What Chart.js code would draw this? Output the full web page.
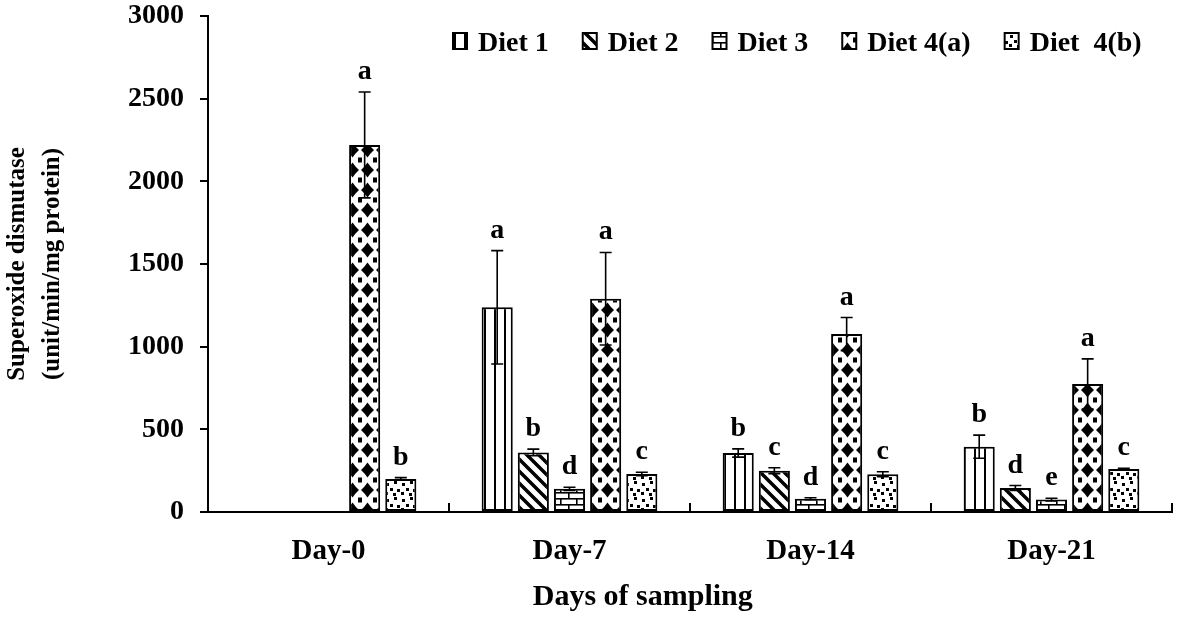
<!DOCTYPE html>
<html><head><meta charset="utf-8">
<script src="https://cdn.jsdelivr.net/npm/chart.js@4.4.1/dist/chart.umd.min.js"></script>
<style>html,body{margin:0;padding:0;background:#fff;overflow:hidden}#wrap{width:1181px;height:622px}</style>
</head><body><div id="wrap"><canvas id="c" width="1181" height="622"></canvas></div>
<script>
// ---------- data ----------
const categories = ['Day-0', 'Day-7', 'Day-14', 'Day-21'];
const seriesNames = ['Diet 1', 'Diet 2', 'Diet 3', 'Diet 4(a)', 'Diet  4(b)'];
const diet1 = [null, 1238, 357, 395];
const diet2 = [null, 360, 250, 145];
const diet3 = [null, 140, 80, 75];
const diet4a = [2220, 1290, 1076, 774];
const diet4b = [200, 230, 228, 260];
const err1 = [0, 343, 25, 70];
const err2 = [0, 20, 18, 15];
const err3 = [0, 10, 6, 8];
const err4a = [320, 280, 100, 152];
const err4b = [8, 10, 15, 5];
const letters1 = ['', 'a', 'b', 'b'];
const letters2 = ['', 'b', 'c', 'd'];
const letters3 = ['', 'd', 'd', 'e'];
const letters4a = ['a', 'a', 'a', 'a'];
const letters4b = ['b', 'c', 'c', 'c'];
const yMin = 0, yMax = 3000, yStep = 500;
const xTitle = 'Days of sampling';
const yTitle = ['Superoxide dismutase', '(unit/min/mg protein)'];

const FONT = '"Liberation Serif", "Times New Roman", serif';

// ---------- patterns ----------
function makePattern(kind) {
  const c = document.createElement('canvas');
  const g = c.getContext('2d');
  let w = 12, h = 12;
  if (kind === 'vlines') { w = 10; h = 10; }
  if (kind === 'brick') { w = 16; h = 12; }
  if (kind === 'diamond') { w = 15; h = 20; }
  if (kind === 'confetti') { w = 16; h = 16; }
  c.width = w; c.height = h;
  g.fillStyle = '#fff'; g.fillRect(0, 0, w, h);
  g.fillStyle = '#000'; g.strokeStyle = '#000';
  if (kind === 'vlines') {
    g.fillRect(4, 0, 2, h);
  } else if (kind === 'diag') {
    g.lineWidth = 3.5;
    g.beginPath();
    for (let o = -w; o <= w; o += w) { g.moveTo(o - 2, -2); g.lineTo(o + w + 2, h + 2); }
    g.stroke();
  } else if (kind === 'brick') {
    g.fillRect(0, 0, w, 1.6);
    g.fillRect(0, 6, w, 1.6);
    g.fillRect(8, 0, 1.6, 6);
    g.fillRect(0, 6, 1.6, 6);
  } else if (kind === 'diamond') {
    g.beginPath();
    g.moveTo(7.5, 2.5); g.lineTo(10.5, 6.5); g.lineTo(14, 10); g.lineTo(10.5, 13.5);
    g.lineTo(7.5, 17.5); g.lineTo(4.5, 13.5); g.lineTo(1, 10); g.lineTo(4.5, 6.5);
    g.closePath(); g.fill();
    g.fillRect(0, 0, 2, 2.5); g.fillRect(w - 2, 0, 2, 2.5);
    g.fillRect(0, h - 2.5, 2, 2.5); g.fillRect(w - 2, h - 2.5, 2, 2.5);
  } else if (kind === 'confetti') {
    [[2, 3], [10, 1], [6, 8], [13, 9], [1, 12], [9, 13]].forEach(p => g.fillRect(p[0], p[1], 3, 3));
  }
  return document.getElementById('c').getContext('2d').createPattern(c, 'repeat');
}

const seriesValues = [diet1, diet2, diet3, diet4a, diet4b];
const seriesErrors = [err1, err2, err3, err4a, err4b];
const seriesLetters = [letters1, letters2, letters3, letters4a, letters4b];
const seriesPatterns = ['vlines', 'diag', 'brick', 'diamond', 'confetti'];

const datasets = seriesNames.map((name, i) => ({
  label: name,
  data: seriesValues[i],
  errors: seriesErrors[i],
  letters: seriesLetters[i],
  backgroundColor: makePattern(seriesPatterns[i]),
  borderColor: '#000',
  borderWidth: 2,
  borderSkipped: false,
  categoryPercentage: 0.75,
  barPercentage: 0.86
}));

// ---------- overlay plugin ----------
const overlay = {
  id: 'overlay',
  afterDatasetsDraw(chart) {
    const ctx = chart.ctx, ys = chart.scales.y, xs = chart.scales.x, area = chart.chartArea;
    ctx.save();
    ctx.strokeStyle = '#000';
    ctx.fillStyle = '#000';
    chart.data.datasets.forEach((ds, i) => {
      const meta = chart.getDatasetMeta(i);
      meta.data.forEach((bar, j) => {
        const v = ds.data[j];
        if (v == null) return;
        const e = ds.errors[j] || 0;
        const top = ys.getPixelForValue(v + e);
        const bot = ys.getPixelForValue(v - e);
        if (e > 0) {
          ctx.lineWidth = 1.6;
          ctx.beginPath();
          ctx.moveTo(bar.x, top); ctx.lineTo(bar.x, bot);
          ctx.moveTo(bar.x - 6, top); ctx.lineTo(bar.x + 6, top);
          ctx.moveTo(bar.x - 6, bot); ctx.lineTo(bar.x + 6, bot);
          ctx.stroke();
        }
        const L = ds.letters[j];
        if (L) {
          ctx.font = 'bold 28px ' + FONT;
          ctx.textAlign = 'center';
          ctx.textBaseline = 'alphabetic';
          ctx.fillText(L, bar.x, top - 13);
        }
      });
    });
    // inner tick marks at category boundaries on x axis
    ctx.lineWidth = 2;
    ctx.beginPath();
    for (let k = 0; k <= categories.length; k++) {
      const px = xs.getPixelForValue(k - 0.5);
      ctx.moveTo(px, area.bottom); ctx.lineTo(px, area.bottom - 9);
    }
    ctx.stroke();
    ctx.restore();
  },
  afterDraw(chart) {
    const ctx = chart.ctx, area = chart.chartArea;
    ctx.save();
    // x title
    ctx.fillStyle = '#000';
    ctx.font = 'bold 30px ' + FONT;
    ctx.textAlign = 'center';
    ctx.textBaseline = 'alphabetic';
    ctx.fillText(xTitle, area.left + 0.451 * (area.right - area.left), 605);
    // legend
    ctx.font = 'bold 28px ' + FONT;
    ctx.textAlign = 'left';
    let x = area.left + 245;
    const boxW = 14, boxH = 16, boxY = area.top + 17;
    chart.data.datasets.forEach(ds => {
      ctx.fillStyle = ds.backgroundColor;
      ctx.fillRect(x, boxY, boxW, boxH);
      ctx.strokeStyle = '#000'; ctx.lineWidth = 2;
      ctx.strokeRect(x, boxY, boxW, boxH);
      ctx.fillStyle = '#000';
      const tx = x + boxW + 11;
      ctx.fillText(ds.label, tx, boxY + boxH + 2);
      x = tx + ctx.measureText(ds.label).width + 34;
    });
    ctx.restore();
  }
};

new Chart(document.getElementById('c'), {
  type: 'bar',
  data: { labels: categories, datasets },
  options: {
    responsive: false,
    animation: false,
    devicePixelRatio: 1,
    layout: { padding: { top: 16, right: 9, left: 0, bottom: 0 } },
    plugins: { legend: { display: false }, tooltip: { enabled: false } },
    scales: {
      x: {
        offset: true,
        grid: { display: false },
        border: { display: true, color: '#000', width: 2 },
        ticks: { color: '#000', font: { family: FONT, size: 29, weight: 'bold' }, padding: 14, maxRotation: 0 },
        afterFit(s) { s.height = 110; s.paddingLeft = 0; s.paddingRight = 0; }
      },
      y: {
        min: yMin, max: yMax,
        grid: { drawOnChartArea: false, drawTicks: true, tickLength: 8, color: '#000', lineWidth: 2 },
        border: { display: true, color: '#000', width: 2 },
        ticks: { stepSize: yStep, color: '#000', font: { family: FONT, size: 28, weight: 'bold' }, padding: 16,
                 callback: v => String(v) },
        title: { display: true, text: yTitle, color: '#000', font: { family: FONT, size: 25, weight: 'bold', lineHeight: 1.4 }, padding: 0 },
        afterFit(s) { s.width = 208; s.paddingTop = 0; s.paddingBottom = 0; }
      }
    }
  },
  plugins: [overlay]
});
</script>
</body></html>
